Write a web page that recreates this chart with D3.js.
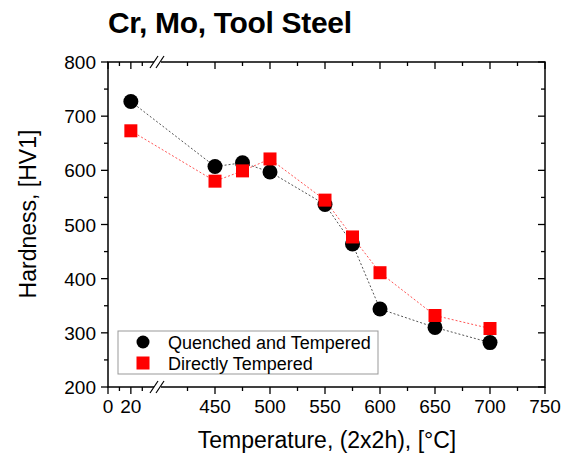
<!DOCTYPE html>
<html><head><meta charset="utf-8">
<script src="https://cdn.jsdelivr.net/npm/d3@7"></script>
<style>body{margin:0;background:#fff}svg{display:block}text{font-family:"Liberation Sans",Arial,sans-serif}</style>
</head><body><svg id="c" width="569" height="456"></svg>
<script>
const temps = [20, 450, 475, 500, 550, 575, 600, 650, 700];
const quenched = [727, 607, 614, 597, 537, 464, 344, 310, 282];
const direct = [673, 580, 599, 621, 545, 477, 411, 332, 308];
const seriesNames = ["Quenched and Tempered", "Directly Tempered"];
const xTicksLeft = [0, 20];
const xMinorLeft = [10, 30];
const xTicksRight = [450, 500, 550, 600, 650, 700, 750];
const xMinorRight = [425, 475, 525, 575, 625, 675, 725];
const yTicks = [200, 300, 400, 500, 600, 700, 800];
const yMinor = [250, 350, 450, 550, 650, 750];

const svg = d3.select("#c");
const L = 108, R = 545, T = 62, B = 387, BRK = 157;
const xl = d3.scaleLinear().domain([0, 42]).range([L, 156]);
const xr = d3.scaleLinear().domain([400, 750]).range([160, R]);
const x = v => v < 200 ? xl(v) : xr(v);
const y = d3.scaleLinear().domain([200, 800]).range([B, T]);

svg.append("rect").attr("x", L).attr("y", T).attr("width", R - L).attr("height", B - T)
  .attr("fill", "none").attr("stroke", "#000").attr("stroke-width", 1.5);

const g = svg.append("g");
function xtick(v, len, major) {
  const px = x(v);
  g.append("line").attr("x1", px).attr("x2", px).attr("y1", B).attr("y2", B + len).attr("stroke", "#000").attr("stroke-width", 1.3);
  g.append("line").attr("x1", px).attr("x2", px).attr("y1", T).attr("y2", T + len).attr("stroke", "#000").attr("stroke-width", 1.3);
  if (major) g.append("text").attr("x", px).attr("y", B + 26).attr("text-anchor", "middle")
    .attr("font-size", 19).text(v);
}
xTicksLeft.forEach(v => xtick(v, 7, true));
xMinorLeft.forEach(v => xtick(v, 4, false));
xTicksRight.forEach(v => xtick(v, 7, true));
xMinorRight.forEach(v => xtick(v, 4, false));
function ytick(v, len, major) {
  const py = y(v);
  g.append("line").attr("x1", L - len).attr("x2", L).attr("y1", py).attr("y2", py).attr("stroke", "#000").attr("stroke-width", 1.3);
  g.append("line").attr("x1", R - len).attr("x2", R).attr("y1", py).attr("y2", py).attr("stroke", "#000").attr("stroke-width", 1.3);
  if (major) g.append("text").attr("x", L - 12).attr("y", py + 7).attr("text-anchor", "end")
    .attr("font-size", 19).text(v);
}
yTicks.forEach(v => ytick(v, 7, true));
yMinor.forEach(v => ytick(v, 4, false));

[T, B].forEach(yy => {
  svg.append("rect").attr("x", BRK - 3).attr("y", yy - 2).attr("width", 7).attr("height", 4).attr("fill", "#fff");
  [-3, 3].forEach(dx => svg.append("line").attr("x1", BRK + dx - 4).attr("x2", BRK + dx + 4)
    .attr("y1", yy + 6).attr("y2", yy - 6).attr("stroke", "#000").attr("stroke-width", 1.2));
});

const line = d3.line().x((d, i) => x(temps[i])).y(d => y(d));
svg.append("path").datum(quenched).attr("d", line).attr("fill", "none")
  .attr("stroke", "#555").attr("stroke-width", 1).attr("stroke-dasharray", "2,2");
svg.append("path").datum(direct).attr("d", line).attr("fill", "none")
  .attr("stroke", "#f55").attr("stroke-width", 1).attr("stroke-dasharray", "2,2");

svg.selectAll(".q").data(quenched).enter().append("circle")
  .attr("cx", (d, i) => x(temps[i])).attr("cy", d => y(d)).attr("r", 7.5).attr("fill", "#000");
svg.selectAll(".d").data(direct).enter().append("rect")
  .attr("x", (d, i) => x(temps[i]) - 6.5).attr("y", d => y(d) - 6.5)
  .attr("width", 13).attr("height", 13).attr("fill", "#f00");

svg.append("rect").attr("x", 118).attr("y", 331).attr("width", 260).attr("height", 43)
  .attr("fill", "#fff").attr("stroke", "#999").attr("stroke-width", 1);
svg.append("circle").attr("cx", 143).attr("cy", 342).attr("r", 6.5).attr("fill", "#000");
svg.append("rect").attr("x", 136.5).attr("y", 356.5).attr("width", 13).attr("height", 13).attr("fill", "#f00");
svg.append("text").attr("x", 168).attr("y", 348.5).attr("font-size", 18).text(seriesNames[0]);
svg.append("text").attr("x", 168).attr("y", 369.5).attr("font-size", 18).text(seriesNames[1]);

svg.append("text").attr("x", 230).attr("y", 33).attr("text-anchor", "middle")
  .attr("font-size", 30).attr("font-weight", "bold").attr("textLength", 244).text("Cr, Mo, Tool Steel");
svg.append("text").attr("x", 327).attr("y", 448).attr("text-anchor", "middle")
  .attr("font-size", 23).text("Temperature, (2x2h), [°C]");
svg.append("text").attr("transform", "translate(36,214) rotate(-90)").attr("text-anchor", "middle")
  .attr("font-size", 23).text("Hardness, [HV1]");
</script></body></html>
